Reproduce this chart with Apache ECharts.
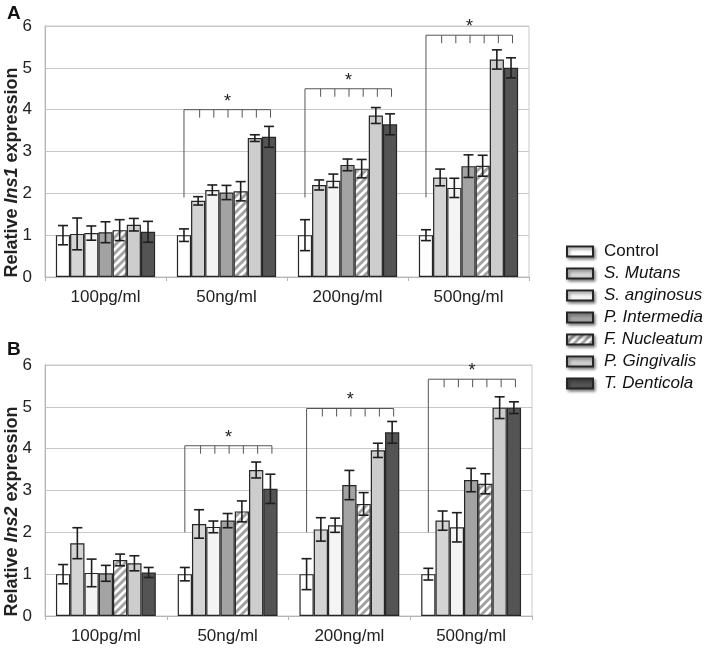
<!DOCTYPE html>
<html><head><meta charset="utf-8">
<script src="https://cdn.jsdelivr.net/npm/echarts@6/dist/echarts.min.js"></script>
<style>html,body{margin:0;padding:0;background:#fff}#c{width:708px;height:649px}</style>
</head><body><div id="c"></div>
<script>
// ---- data ----
const categories = ['100pg/ml', '50ng/ml', '200ng/ml', '500ng/ml'];
const seriesNames = ['Control', 'S. Mutans', 'S. anginosus', 'P. Intermedia', 'F. Nucleatum', 'P. Gingivalis', 'T. Denticola'];
const yTicks = [0, 1, 2, 3, 4, 5, 6];
// rows: series, columns: categories
const ins1Mean = [
  [1.00, 1.00, 1.00, 1.00],
  [1.03, 1.82, 2.20, 2.38],
  [1.05, 2.08, 2.30, 2.13],
  [1.07, 2.02, 2.68, 2.65],
  [1.12, 2.05, 2.59, 2.66],
  [1.25, 3.32, 3.86, 5.20],
  [1.08, 3.35, 3.65, 5.00]
];
const ins1Err = [
  [0.23, 0.15, 0.37, 0.13],
  [0.38, 0.10, 0.12, 0.20],
  [0.17, 0.12, 0.16, 0.23],
  [0.25, 0.17, 0.14, 0.27],
  [0.25, 0.23, 0.22, 0.25],
  [0.15, 0.08, 0.19, 0.23],
  [0.25, 0.25, 0.25, 0.24]
];
const ins2Mean = [
  [1.00, 1.00, 1.00, 1.00],
  [1.74, 2.20, 2.07, 2.28],
  [1.03, 2.13, 2.17, 2.12],
  [1.02, 2.28, 3.13, 3.25],
  [1.34, 2.50, 2.68, 3.16],
  [1.26, 3.49, 3.96, 4.98],
  [1.04, 3.04, 4.39, 4.98]
];
const ins2Err = [
  [0.23, 0.16, 0.37, 0.14],
  [0.37, 0.34, 0.28, 0.23],
  [0.33, 0.14, 0.17, 0.35],
  [0.19, 0.17, 0.35, 0.28],
  [0.14, 0.25, 0.27, 0.24],
  [0.18, 0.19, 0.17, 0.26],
  [0.12, 0.35, 0.26, 0.14]
];
// significance brackets: [category index, bracket level, left arm bottom]
const ins1Brackets = [[1, 4.00, 1.90], [2, 4.50, 1.90], [3, 5.78, 1.90]];
const ins2Brackets = [[1, 4.07, 2.00], [2, 4.96, 2.00], [3, 5.66, 2.00]];

// ---- styles ----
const FONT = "'Liberation Sans', Arial, Helvetica, sans-serif";
const GAP = 0.18;
const N = seriesNames.length;
const hatch = document.createElement('canvas');
hatch.width = 8; hatch.height = 8;
(function () {
  const g = hatch.getContext('2d');
  g.fillStyle = '#ffffff'; g.fillRect(0, 0, 8, 8);
  g.strokeStyle = '#a2a2a2'; g.lineWidth = 3;
  for (const o of [-8, 0, 8]) { g.beginPath(); g.moveTo(o - 1, 9); g.lineTo(o + 9, -1); g.stroke(); }
})();
const fills = ['#ffffff', '#d4d4d4', '#f4f4f4', '#a3a3a3', { image: hatch, repeat: 'repeat' }, '#cdcdcd', '#545454'];

function errRender(params, api) {
  const cat = api.value(0), s = api.value(1), v = api.value(2), e = api.value(3);
  const band = api.size([1, 0])[0];
  const bw = band * (1 - GAP) / N;
  const x = api.coord([cat, v])[0] + (s - (N - 1) / 2) * bw;
  const yt = api.coord([cat, v + e])[1], yb = api.coord([cat, v - e])[1];
  const h = 5, st = { stroke: '#1e1e1e', lineWidth: 1.6 };
  return { type: 'group', children: [
    { type: 'line', shape: { x1: x, y1: yt, x2: x, y2: yb }, style: st },
    { type: 'line', shape: { x1: x - h, y1: yt, x2: x + h, y2: yt }, style: st },
    { type: 'line', shape: { x1: x - h, y1: yb, x2: x + h, y2: yb }, style: st }
  ]};
}
function bracketRender(params, api) {
  const cat = api.value(0), top = api.value(1), arm = api.value(2);
  const band = api.size([1, 0])[0];
  const bw = band * (1 - GAP) / N;
  const cx = api.coord([cat, top])[0];
  const y = api.coord([cat, top])[1];
  const yArm = api.coord([cat, arm])[1];
  const st = { stroke: '#555', lineWidth: 1 };
  const xs = []; for (let i = 0; i < N; i++) xs.push(cx + (i - (N - 1) / 2) * bw + (i > 0 ? 1.5 : 0));
  const ch = [
    { type: 'line', shape: { x1: xs[0], y1: y, x2: xs[N - 1], y2: y }, style: st },
    { type: 'line', shape: { x1: xs[0], y1: y, x2: xs[0], y2: yArm }, style: st }
  ];
  for (let i = 1; i < N; i++) ch.push({ type: 'line', shape: { x1: xs[i], y1: y, x2: xs[i], y2: y + 8 }, style: st });
  ch.push({ type: 'text', x: cx + 1, y: y + 1, style: { text: '*', font: '18px ' + FONT, fill: '#222', align: 'center', verticalAlign: 'bottom' } });
  return { type: 'group', children: ch };
}

function axes(idx, gene) {
  return {
    x: {
      type: 'category', gridIndex: idx, data: categories,
      axisLine: { lineStyle: { color: '#b4b4b4' } },
      axisTick: { show: true, length: 4, lineStyle: { color: '#b4b4b4' } },
      axisLabel: { color: '#222', fontSize: 17, fontFamily: FONT, margin: 12 }
    },
    y: {
      type: 'value', gridIndex: idx, min: 0, max: 6, interval: 1,
      axisLine: { show: true, lineStyle: { color: '#b4b4b4' } },
      axisTick: { show: false },
      axisLabel: { color: '#222', fontSize: 17, fontFamily: FONT, margin: 13, formatter: v => yTicks.includes(v) ? String(v) : '' },
      splitLine: { lineStyle: { color: '#c8c8c8', width: 1.2 } },
      name: '{n|Relative }{i|' + gene + '}{n| expression}',
      nameLocation: 'middle', nameGap: 24, nameMoveOverlap: false,
      nameTextStyle: { padding: [0, 42, 0, 0], rich: {
        n: { fontSize: 18, fontWeight: 'bold', fontFamily: FONT, color: '#222' },
        i: { fontSize: 18, fontWeight: 'bold', fontStyle: 'italic', fontFamily: FONT, color: '#222' }
      } }
    }
  };
}
const a0 = axes(0, 'Ins1'), a1 = axes(1, 'Ins2');

const series = [];
[[ins1Mean, ins1Err, ins1Brackets], [ins2Mean, ins2Err, ins2Brackets]].forEach(([mean, err, br], p) => {
  seriesNames.forEach((nm, i) => {
    series.push({
      type: 'bar', name: nm, xAxisIndex: p, yAxisIndex: p,
      data: mean[i], barGap: '0%', barCategoryGap: (GAP * 100) + '%',
      itemStyle: { color: fills[i], borderColor: '#262626', borderWidth: 1.2 },
      emphasis: { disabled: true }, z: 2
    });
  });
  const ed = [];
  mean.forEach((row, s) => row.forEach((v, c) => ed.push([c, s, v, err[s][c]])));
  series.push({ type: 'custom', xAxisIndex: p, yAxisIndex: p, renderItem: errRender, data: ed, encode: { x: 0, y: 2 }, z: 10, silent: true, clip: false });
  series.push({ type: 'custom', xAxisIndex: p, yAxisIndex: p, renderItem: bracketRender, data: br, encode: { x: 0, y: 1 }, z: 10, silent: true, clip: false });
});

const chart = echarts.init(document.getElementById('c'), null, { renderer: 'canvas' });
chart.setOption({
  animation: false,
  backgroundColor: '#fff',
  graphic: [
    { type: 'text', left: 7, top: 4, style: { text: 'A', font: 'bold 19px ' + FONT, fill: '#111' } },
    { type: 'text', left: 7, top: 340, style: { text: 'B', font: 'bold 19px ' + FONT, fill: '#111' } }
  ],
  grid: [
    { left: 45, top: 26, width: 484, height: 251, show: true, borderColor: '#c8c8c8', borderWidth: 1, containLabel: false, outerBoundsMode: 'none' },
    { left: 45, top: 365, width: 487, height: 251, show: true, borderColor: '#c8c8c8', borderWidth: 1, containLabel: false, outerBoundsMode: 'none' }
  ],
  xAxis: [a0.x, a1.x],
  yAxis: [a0.y, a1.y],
  legend: {
    data: seriesNames, orient: 'vertical', left: 566, top: 243, padding: 0,
    itemWidth: 26, itemHeight: 10, itemGap: 5, icon: 'rect', selectedMode: false,
    itemStyle: { shadowBlur: 3, shadowColor: 'rgba(0,0,0,0.45)', shadowOffsetX: 1.5, shadowOffsetY: 2 },
    formatter: n => (n === 'Control' ? '{n|' : '{i|') + n + '}',
    textStyle: { rich: {
      n: { fontSize: 17, lineHeight: 17, fontFamily: FONT, color: '#111', padding: [0, 0, 0, 6] },
      i: { fontSize: 17, lineHeight: 17, fontFamily: FONT, fontStyle: 'italic', color: '#111', padding: [0, 0, 0, 6] }
    } }
  },
  series
});
</script></body></html>
